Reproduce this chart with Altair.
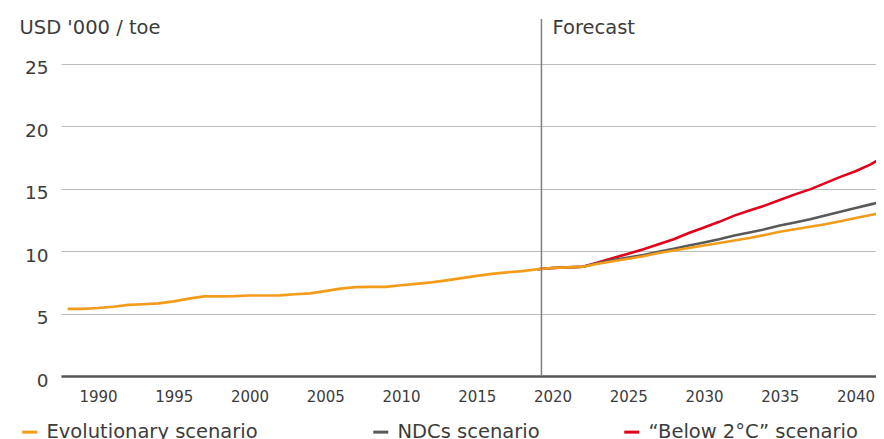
import altair as alt
import pandas as pd

# ---- data ----
hist_years = list(range(1988, 2019))
hist_evo = [5.38, 5.38, 5.45, 5.55, 5.70, 5.75, 5.82, 5.98, 6.20, 6.38,
            6.38, 6.40, 6.45, 6.45, 6.46, 6.55, 6.62, 6.80, 7.00, 7.12,
            7.14, 7.14, 7.27, 7.38, 7.50, 7.66, 7.84, 8.02, 8.18, 8.30,
            8.40]
fc_years = list(range(2019, 2043))
fc_evo = [8.55, 8.65, 8.70, 8.75, 9.00, 9.20, 9.40, 9.60, 9.85, 10.05,
          10.25, 10.45, 10.65, 10.85, 11.05, 11.30, 11.55, 11.75, 11.95, 12.15,
          12.40, 12.65, 12.90, 13.15]
fc_ndc = [8.55, 8.65, 8.70, 8.75, 9.05, 9.30, 9.50, 9.70, 9.95, 10.20,
          10.45, 10.70, 10.95, 11.25, 11.50, 11.75, 12.05, 12.30, 12.55, 12.85,
          13.15, 13.45, 13.75, 14.05]
fc_b2 = [8.55, 8.65, 8.70, 8.75, 9.10, 9.45, 9.80, 10.15, 10.55, 10.95,
         11.45, 11.90, 12.35, 12.85, 13.25, 13.65, 14.10, 14.55, 14.95, 15.45,
         15.95, 16.40, 16.95, 17.65]
scenarios = ["Evolutionary scenario", "NDCs scenario", "\u201cBelow 2\u00b0C\u201d scenario"]
colors = ["#f39c1b", "#595959", "#e2001a"]
y_ticks = [0, 5, 10, 15, 20, 25]
x_ticks = list(range(1990, 2041, 5))
forecast_start = [2019.27]
forecast_label = ["Forecast"]
y_title = "USD '000 / toe"

FONT = "DejaVu Sans"
TXT = "#3c3c3c"

df_evo = pd.DataFrame({"year": hist_years + fc_years, "value": hist_evo + fc_evo,
                       "scenario": scenarios[0]})
df_ndc = pd.DataFrame({"year": fc_years, "value": fc_ndc, "scenario": scenarios[1]})
df_b2 = pd.DataFrame({"year": fc_years, "value": fc_b2, "scenario": scenarios[2]})
df_fc = pd.DataFrame({"year": forecast_start, "label": forecast_label})

x_scale = alt.Scale(domain=[1987.56, 2041.35], nice=False, zero=False)
y_scale = alt.Scale(domain=[0, 28.6], nice=False)

x_axis = alt.Axis(values=x_ticks, format="d", title=None, grid=False, ticks=False,
                  labelFontSize=15, labelPadding=13, labelColor=TXT, labelFont=FONT,
                  domainColor="#555555", domainWidth=2.5)
y_axis = alt.Axis(values=y_ticks, title=y_title, titleAngle=0, titleAlign="left",
                  titleBaseline="middle", titleX=-42, titleY=8.5, titleFontSize=19.5,
                  titleFontWeight="normal", titleColor=TXT, titleFont=FONT,
                  ticks=False, domain=False, grid=True, gridColor="#bcbcbc", gridWidth=1.2,
                  labelFontSize=18.5, labelPadding=13, labelOffset=4, labelColor=TXT,
                  labelFont=FONT)

# trailing non-breaking spaces kept from trimming by a zero-width space
pad = "\u00a0" * 5 + "\u200b"
color = alt.Color(
    "scenario:N",
    scale=alt.Scale(domain=scenarios, range=colors),
    legend=alt.Legend(
        title=None, orient="none", legendX=-41, legendY=403, direction="horizontal",
        symbolType="stroke", symbolSize=225, symbolStrokeWidth=3,
        labelFontSize=19.5, labelOffset=7, columnPadding=78, labelColor=TXT,
        labelFont=FONT, labelLimit=500,
        labelExpr=f"datum.label == '{scenarios[0]}' ? datum.label + '{pad}' : datum.label",
    ),
)


def line(df):
    return alt.Chart(df).mark_line(strokeWidth=2.6, clip=True).encode(
        x=alt.X("year:Q", scale=x_scale, axis=x_axis),
        y=alt.Y("value:Q", scale=y_scale, axis=y_axis),
        color=color,
    )


rule = alt.Chart(df_fc).mark_rule(color="#7f7f7f", strokeWidth=1.5).encode(
    x=alt.X("year:Q", scale=x_scale)
)
ftext = alt.Chart(df_fc).mark_text(
    align="left", baseline="middle", dx=11, fontSize=19.5, font=FONT, color=TXT
).encode(
    x=alt.X("year:Q", scale=x_scale),
    y=alt.value(8.5),
    text="label:N",
)

chart = alt.layer(line(df_b2), line(df_ndc), line(df_evo), rule, ftext).properties(
    width=815,
    height=357,
    autosize=alt.AutoSizeParams(type="none"),
    padding={"left": 53, "top": 11, "right": 0, "bottom": 63},
    background="white",
).configure(font=FONT).configure_view(stroke=None, strokeWidth=0)

chart.save("out.html", embed_options={"renderer": "svg", "actions": False})
